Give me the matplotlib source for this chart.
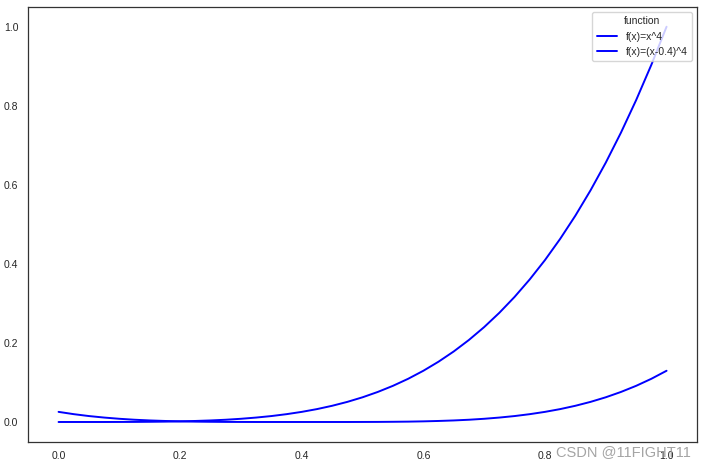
import matplotlib
matplotlib.use("Agg")
import matplotlib.pyplot as plt
import seaborn as sns

sns.set_style("white")
plt.rcParams["font.family"] = ["Liberation Sans", "DejaVu Sans"]

# x positions and the two curves
x = [0.0, 0.025, 0.05, 0.075, 0.1, 0.125, 0.15, 0.175, 0.2, 0.225, 0.25,
     0.275, 0.3, 0.325, 0.35, 0.375, 0.4, 0.425, 0.45, 0.475, 0.5,
     0.525, 0.55, 0.575, 0.6, 0.625, 0.65, 0.675, 0.7, 0.725, 0.75,
     0.775, 0.8, 0.825, 0.85, 0.875, 0.9, 0.925, 0.95, 0.975, 1.0]
upper = [0.0256, 0.0198, 0.0150, 0.0112, 0.0081, 0.0057, 0.0039, 0.0026, 0.0016,
         0.0026, 0.0039, 0.0057, 0.0081, 0.0112, 0.0150, 0.0198, 0.0256, 0.0326,
         0.0410, 0.0509, 0.0625, 0.0760, 0.0915, 0.1093, 0.1296, 0.1526, 0.1785,
         0.2076, 0.2401, 0.2763, 0.3164, 0.3608, 0.4096, 0.4633, 0.5220, 0.5862,
         0.6561, 0.7321, 0.8145, 0.9037, 1.0]
lower = [0.0, 0.0, 0.0, 0.0, 0.0001, 0.0002, 0.0005, 0.0009, 0.0016,
         0.0009, 0.0005, 0.0002, 0.0001, 0.0, 0.0, 0.0, 0.0, 0.0,
         0.0, 0.0, 0.0001, 0.0002, 0.0005, 0.0009, 0.0016, 0.0026, 0.0039,
         0.0057, 0.0081, 0.0112, 0.0150, 0.0198, 0.0256, 0.0326, 0.0410, 0.0509,
         0.0625, 0.0760, 0.0915, 0.1093, 0.1296]
labels = ["f(x)=x^4", "f(x)=(x-0.4)^4"]

fig, ax = plt.subplots(figsize=(7.04, 4.65), dpi=100)
fig.subplots_adjust(left=0.04, right=0.99, top=0.985, bottom=0.05)

ax.plot(x, upper, color="blue", lw=1.4, label=labels[0])
ax.plot(x, lower, color="blue", lw=1.4, label=labels[1])

ax.tick_params(labelsize=7.5)
for s in ax.spines.values():
    s.set_color("#333333")
    s.set_linewidth(0.9)

leg = ax.legend(title="function", loc="upper right", fontsize=7.5, title_fontsize=7.5,
                frameon=True, borderpad=0.4, handlelength=2.0)
leg.get_frame().set_edgecolor("#cccccc")

fig.text(0.79, 0.02, "CSDN @11FIGHT11", color="#9a9a9a", fontsize=10.5, alpha=0.9)

fig.savefig("out.png", dpi=100)
